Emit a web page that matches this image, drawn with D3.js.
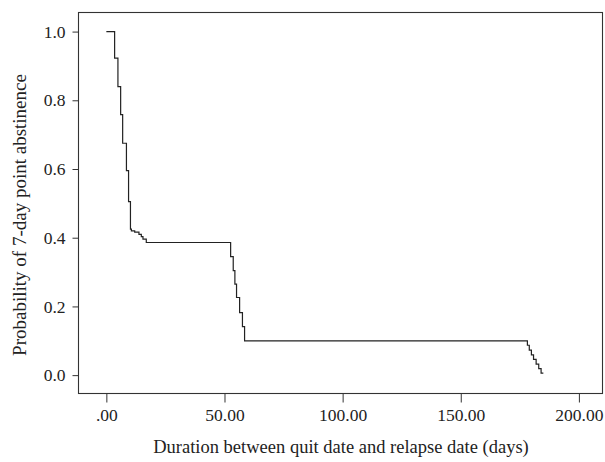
<!DOCTYPE html>
<html>
<head>
<meta charset="utf-8">
<script src="https://cdn.jsdelivr.net/npm/d3@7"></script>
<style>
  body { margin: 0; background: #fff; }
  svg text { font-family: "Liberation Serif", "DejaVu Serif", serif; fill: #222; }
</style>
</head>
<body>
<div class="chart"></div>
<script>
// survival curve (time in days, probability)
var days = [0, 3.5, 4.9, 6.05, 6.9, 8.5, 9.4, 10.2, 10.6, 12.0, 13.8, 14.8, 15.5, 16.9,
            52.6, 53.7, 54.4, 55.1, 56.4, 57.6, 58.5,
            178.2, 179.0, 179.9, 180.8, 181.9, 183.0, 184.0, 184.7];
var prob = [1.0, 0.923, 0.840, 0.758, 0.675, 0.595, 0.505, 0.425, 0.420, 0.416, 0.410, 0.403, 0.396, 0.386,
            0.345, 0.304, 0.265, 0.226, 0.182, 0.141, 0.100,
            0.087, 0.073, 0.059, 0.046, 0.032, 0.019, 0.006, 0.004];
var xTicks = [0, 50, 100, 150, 200];
var yTicks = [0, 0.2, 0.4, 0.6, 0.8, 1.0];

var width = 605, height = 462;
var margin = {top: 12, right: 2, bottom: 69, left: 78};

var svg = d3.select('.chart').append('svg').attr('width', width).attr('height', height);

var x = d3.scaleLinear().domain([-12, 210.2]).range([margin.left, width - margin.right]);
var y = d3.scaleLinear().domain([-0.052, 1.057]).range([height - margin.bottom, margin.top]);

var data = days.map(function(d, i){ return {t: d, s: prob[i]}; });

// frame
svg.append('rect')
  .attr('x', margin.left + 0.5).attr('y', margin.top + 0.5)
  .attr('width', width - margin.left - margin.right - 1)
  .attr('height', height - margin.bottom - margin.top)
  .attr('fill', 'none').attr('stroke', '#333').attr('stroke-width', 1.1);

// axes
var xAxis = svg.append('g')
  .attr('transform', 'translate(0,' + (height - margin.bottom + 0.5) + ')')
  .call(d3.axisBottom(x).tickValues(xTicks).tickSize(9).tickPadding(6)
    .tickFormat(function(d){ return d === 0 ? '.00' : d3.format('.2f')(d); }));
xAxis.select('.domain').remove();

var yAxis = svg.append('g')
  .attr('transform', 'translate(' + (margin.left + 0.5) + ',0)')
  .call(d3.axisLeft(y).tickValues(yTicks).tickSize(6).tickPadding(7).tickFormat(d3.format('.1f')));
yAxis.select('.domain').remove();

svg.selectAll('.tick line').attr('stroke', '#333');
svg.selectAll('.tick text').style('font-size', '17.5px').attr('fill', '#222');

// curve
var line = d3.line().x(function(d){ return x(d.t); }).y(function(d){ return y(d.s); }).curve(d3.curveStepAfter);
svg.append('path').datum(data)
  .attr('d', line)
  .attr('fill', 'none').attr('stroke', '#222').attr('stroke-width', 1.2);

// labels
svg.append('text')
  .attr('x', 341).attr('y', 453)
  .attr('text-anchor', 'middle').style('font-size', '18.5px')
  .text('Duration between quit date and relapse date (days)');

svg.append('text')
  .attr('transform', 'translate(26,215) rotate(-90)')
  .attr('text-anchor', 'middle').style('font-size', '19px')
  .text('Probability of 7-day point abstinence');
</script>
</body>
</html>
